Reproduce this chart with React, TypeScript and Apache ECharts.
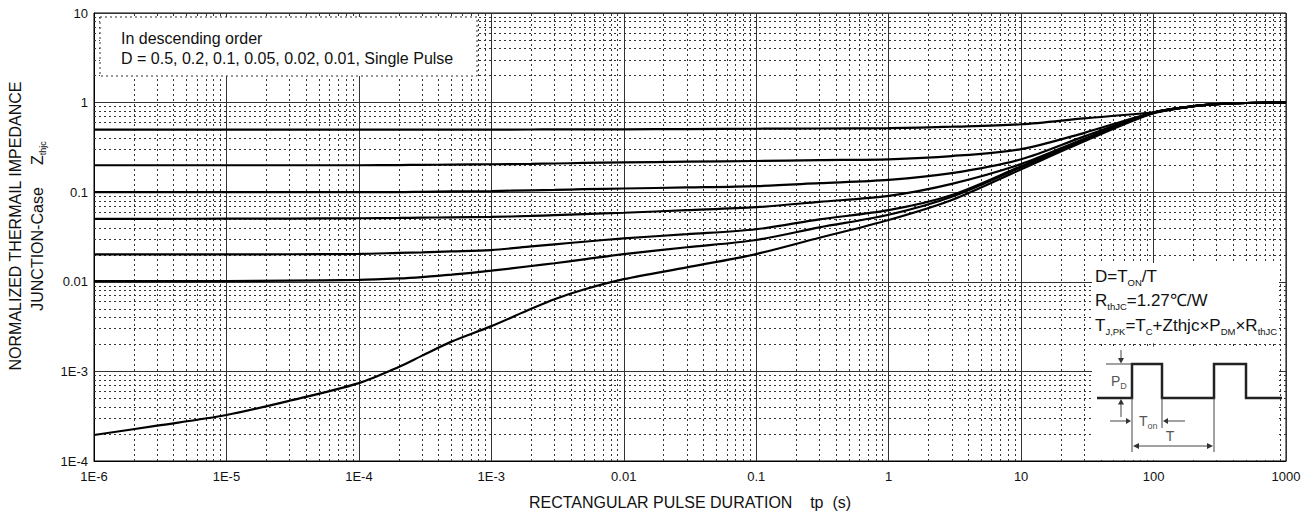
import React, { useEffect, useRef } from 'react';
import * as echarts from 'echarts';

// ---- data ----
const tp = [1e-6, 3e-6, 1e-5, 3e-5, 1e-4, 2e-4, 3e-4, 5e-4, 1e-3, 2e-3, 3e-3, 5e-3, 1e-2, 3e-2, 0.1, 0.3, 1, 3, 10, 30, 100, 200, 300, 500, 1000];

const zD05 = [0.5, 0.5, 0.5, 0.5, 0.5, 0.5, 0.5, 0.5, 0.5, 0.501, 0.502, 0.502, 0.503, 0.507, 0.511, 0.514, 0.518, 0.538, 0.573, 0.668, 0.78, 0.915, 0.965, 0.99, 1.0];
const zD02 = [0.2, 0.2, 0.2, 0.2, 0.2, 0.201, 0.202, 0.203, 0.205, 0.207, 0.209, 0.212, 0.215, 0.219, 0.223, 0.228, 0.233, 0.253, 0.303, 0.46, 0.775, 0.912, 0.962, 0.99, 1.0];
const zD01 = [0.1, 0.1, 0.1, 0.1, 0.1, 0.1, 0.101, 0.102, 0.103, 0.105, 0.106, 0.108, 0.11, 0.113, 0.117, 0.126, 0.137, 0.163, 0.233, 0.42, 0.775, 0.912, 0.962, 0.99, 1.0];
const zD005 = [0.0505, 0.0505, 0.0506, 0.0508, 0.0512, 0.0516, 0.052, 0.0524, 0.053, 0.0543, 0.0555, 0.057, 0.059, 0.063, 0.068, 0.078, 0.091, 0.124, 0.206, 0.395, 0.77, 0.91, 0.96, 0.99, 1.0];
const zD002 = [0.0202, 0.0202, 0.0202, 0.0203, 0.0205, 0.021, 0.0213, 0.0218, 0.0226, 0.0248, 0.0262, 0.028, 0.0305, 0.034, 0.0386, 0.0498, 0.063, 0.093, 0.195, 0.385, 0.77, 0.91, 0.96, 0.99, 1.0];
const zD001 = [0.0102, 0.0102, 0.0102, 0.0103, 0.0105, 0.0109, 0.0113, 0.012, 0.0133, 0.015, 0.0161, 0.0178, 0.0204, 0.0243, 0.0293, 0.0405, 0.056, 0.089, 0.19, 0.38, 0.77, 0.91, 0.96, 0.99, 1.0];
const zSingle = [1.95e-4, 2.48e-4, 3.26e-4, 4.7e-4, 7.4e-4, 1.12e-3, 1.5e-3, 2.15e-3, 3.2e-3, 5.0e-3, 6.4e-3, 8.2e-3, 0.0107, 0.0145, 0.0204, 0.031, 0.049, 0.082, 0.18, 0.37, 0.76, 0.91, 0.96, 0.99, 1.0];

const seriesNames = ['D=0.5', 'D=0.2', 'D=0.1', 'D=0.05', 'D=0.02', 'D=0.01', 'Single Pulse'];
const seriesValues = [zD05, zD02, zD01, zD005, zD002, zD001, zSingle];

const xTickLabels = ['1E-6', '1E-5', '1E-4', '1E-3', '0.01', '0.1', '1', '10', '100', '1000'];
const yTickLabels = ['1E-4', '1E-3', '0.01', '0.1', '1', '10'];
const xDecades = [-6, -5, -4, -3, -2, -1, 0, 1, 2];
const yDecades = [-4, -3, -2, -1, 0];
const minorMults = [2, 3, 4, 5, 6, 7, 8, 9];
const X_MIN = 1e-6, X_MAX = 1000, Y_MIN = 1e-4, Y_MAX = 10;

const legendLine1 = 'In descending order';
const legendLine2 = 'D = 0.5, 0.2, 0.1, 0.05, 0.02, 0.01, Single Pulse';
const xName = 'RECTANGULAR PULSE DURATION    tp  (s)';
const yName1 = 'NORMALIZED THERMAIL IMPEDANCE';

const FONT = '"Liberation Sans", Arial, Helvetica, sans-serif';

export default function App() {
  const ref = useRef<HTMLDivElement>(null);

  useEffect(() => {
    if (!ref.current) return;
    const chart = echarts.init(ref.current, null, { renderer: 'svg' });

    const minorX: number[] = [];
    xDecades.forEach((d) => minorMults.forEach((m) => minorX.push(m * Math.pow(10, d))));
    const minorY: number[] = [];
    yDecades.forEach((d) => minorMults.forEach((m) => minorY.push(m * Math.pow(10, d))));

    const fmt = (labels: string[], offset: number) => (v: number) => {
      const e = Math.round(Math.log10(v));
      return labels[e + offset] ?? '';
    };

    const curves = seriesNames.map((name, i) => ({
      name,
      type: 'line',
      data: tp.map((t, j) => [t, seriesValues[i][j]]),
      showSymbol: false,
      symbol: 'none',
      smooth: 0.3,
      lineStyle: { color: '#000', width: 2.2 },
      z: 5,
      silent: true,
    }));

    const gridSeries = {
      name: 'minor-grid',
      type: 'lines',
      coordinateSystem: 'cartesian2d',
      polyline: false,
      silent: true,
      z: 1,
      effect: { show: false },
      lineStyle: { type: [2, 3], color: '#333', width: 1, opacity: 1 },
      data: [
        ...minorX.map((v) => ({ coords: [[v, Y_MIN], [v, Y_MAX]] })),
        ...minorY.map((v) => ({ coords: [[X_MIN, v], [X_MAX, v]] })),
      ],
    };

    const mainRich = {
      m: { fontSize: 17, fontFamily: FONT, fill: '#111', lineHeight: 22, verticalAlign: 'middle' },
      s: { fontSize: 9.5, fontFamily: FONT, fill: '#111', lineHeight: 10, verticalAlign: 'bottom' },
    };
    const diagRich = {
      m: { fontSize: 14, fontFamily: FONT, fill: '#555', lineHeight: 18, verticalAlign: 'middle' },
      s: { fontSize: 9, fontFamily: FONT, fill: '#555', lineHeight: 9, verticalAlign: 'bottom' },
    };

    const thin = { stroke: '#444', lineWidth: 1 };
    const line = (x1: number, y1: number, x2: number, y2: number) => ({
      type: 'line', z: 102, shape: { x1, y1, x2, y2 }, style: thin,
    });
    const tri = (pts: number[][]) => ({
      type: 'polygon', z: 102, shape: { points: pts }, style: { fill: '#333' },
    });

    const graphic = [
      {
        type: 'rect', z: 100,
        shape: { x: 100, y: 17, width: 377, height: 59 },
        style: { fill: '#fff', stroke: '#333', lineWidth: 1, lineDash: [2, 3] },
      },
      { type: 'text', z: 101, x: 121, y: 38, style: { text: legendLine1, fontSize: 16, fontFamily: FONT, fill: '#111', align: 'left', verticalAlign: 'middle' } },
      { type: 'text', z: 101, x: 121, y: 58, style: { text: legendLine2, fontSize: 16, fontFamily: FONT, fill: '#111', align: 'left', verticalAlign: 'middle' } },

      { type: 'text', z: 101, x: 15, y: 226, rotation: Math.PI / 2, style: { text: yName1, fontSize: 16, fontFamily: FONT, fill: '#111', align: 'center', verticalAlign: 'middle' } },
      {
        type: 'text', z: 101, x: 37, y: 226, rotation: Math.PI / 2,
        style: {
          text: '{m|JUNCTION-Case     Z}{s|thjc}', align: 'center', verticalAlign: 'middle',
          rich: {
            m: { fontSize: 16, fontFamily: FONT, fill: '#111', lineHeight: 20, verticalAlign: 'middle' },
            s: { fontSize: 9, fontFamily: FONT, fill: '#111', lineHeight: 9, verticalAlign: 'bottom' },
          },
        },
      },

      { type: 'rect', z: 100, shape: { x: 1092, y: 263, width: 187, height: 80.5 }, style: { fill: '#fff' } },
      { type: 'rect', z: 100, shape: { x: 1092, y: 346.5, width: 187, height: 113.5 }, style: { fill: '#fff' } },
      { type: 'text', z: 101, x: 1095, y: 276, style: { text: '{m|D=T}{s|ON}{m|/T}', rich: mainRich, align: 'left', verticalAlign: 'middle' } },
      { type: 'text', z: 101, x: 1095, y: 300, style: { text: '{m|R}{s|thJC}{m|=1.27℃/W}', rich: mainRich, align: 'left', verticalAlign: 'middle' } },
      { type: 'text', z: 101, x: 1095, y: 325, style: { text: '{m|T}{s|J,PK}{m|=T}{s|C}{m|+Zthjc×P}{s|DM}{m|×R}{s|thJC}', rich: mainRich, align: 'left', verticalAlign: 'middle' } },

      {
        type: 'polyline', z: 102,
        shape: { points: [[1097, 398], [1132, 398], [1132, 364], [1162, 364], [1162, 398], [1214, 398], [1214, 364], [1246, 364], [1246, 398], [1282, 398]] },
        style: { stroke: '#222', lineWidth: 2.5, fill: null },
      },
      line(1106, 364, 1132, 364),
      line(1121, 350, 1121, 359),
      tri([[1118, 358], [1124, 358], [1121, 363.5]]),
      line(1121, 417, 1121, 404),
      tri([[1118, 404.5], [1124, 404.5], [1121, 399]]),
      line(1110, 421, 1127, 421),
      tri([[1126, 418], [1126, 424], [1131, 421]]),
      line(1185, 421, 1168, 421),
      tri([[1168, 418], [1168, 424], [1163, 421]]),
      line(1132, 398, 1132, 452),
      line(1162, 398, 1162, 428),
      line(1214, 398, 1214, 452),
      line(1138, 446, 1208, 446),
      tri([[1139, 443], [1139, 449], [1133, 446]]),
      tri([[1207, 443], [1207, 449], [1213, 446]]),
      { type: 'text', z: 101, x: 1111, y: 381, style: { text: '{m|P}{s|D}', rich: diagRich, align: 'left', verticalAlign: 'middle' } },
      { type: 'text', z: 101, x: 1139, y: 421, style: { text: '{m|T}{s|on}', rich: diagRich, align: 'left', verticalAlign: 'middle' } },
      { type: 'text', z: 101, x: 1170, y: 436, style: { text: 'T', fontSize: 14, fontFamily: FONT, fill: '#555', align: 'center', verticalAlign: 'middle' } },
    ];

    chart.setOption({
      animation: false,
      backgroundColor: '#fff',
      grid: { left: 94, right: 29, top: 13, bottom: 54, show: true, borderColor: '#000', borderWidth: 1, backgroundColor: 'transparent' },
      xAxis: {
        type: 'log', logBase: 10, min: X_MIN, max: X_MAX, splitNumber: 9,
        axisLine: { show: true, onZero: false, lineStyle: { color: '#000', width: 1 } },
        axisTick: { show: false },
        axisLabel: { formatter: fmt(xTickLabels, 6), color: '#111', fontSize: 13, fontFamily: FONT, margin: 9, showMinLabel: true, showMaxLabel: true },
        splitLine: { show: true, lineStyle: { color: '#333', width: 1 } },
        name: xName, nameLocation: 'middle', nameGap: 33,
        nameTextStyle: { fontSize: 16, fontFamily: FONT, color: '#111' },
      },
      yAxis: {
        type: 'log', logBase: 10, min: Y_MIN, max: Y_MAX, splitNumber: 5,
        axisLine: { show: true, onZero: false, lineStyle: { color: '#000', width: 1 } },
        axisTick: { show: false },
        axisLabel: { formatter: fmt(yTickLabels, 4), color: '#111', fontSize: 13, fontFamily: FONT, margin: 6, showMinLabel: true, showMaxLabel: true },
        splitLine: { show: true, lineStyle: { color: '#333', width: 1 } },
      },
      series: [gridSeries, ...curves],
      graphic,
    });

    return () => chart.dispose();
  }, []);

  return (
    <div
      ref={ref}
      style={{ position: 'fixed', left: 0, top: 0, width: 1315, height: 515, background: '#fff' }}
    />
  );
}
